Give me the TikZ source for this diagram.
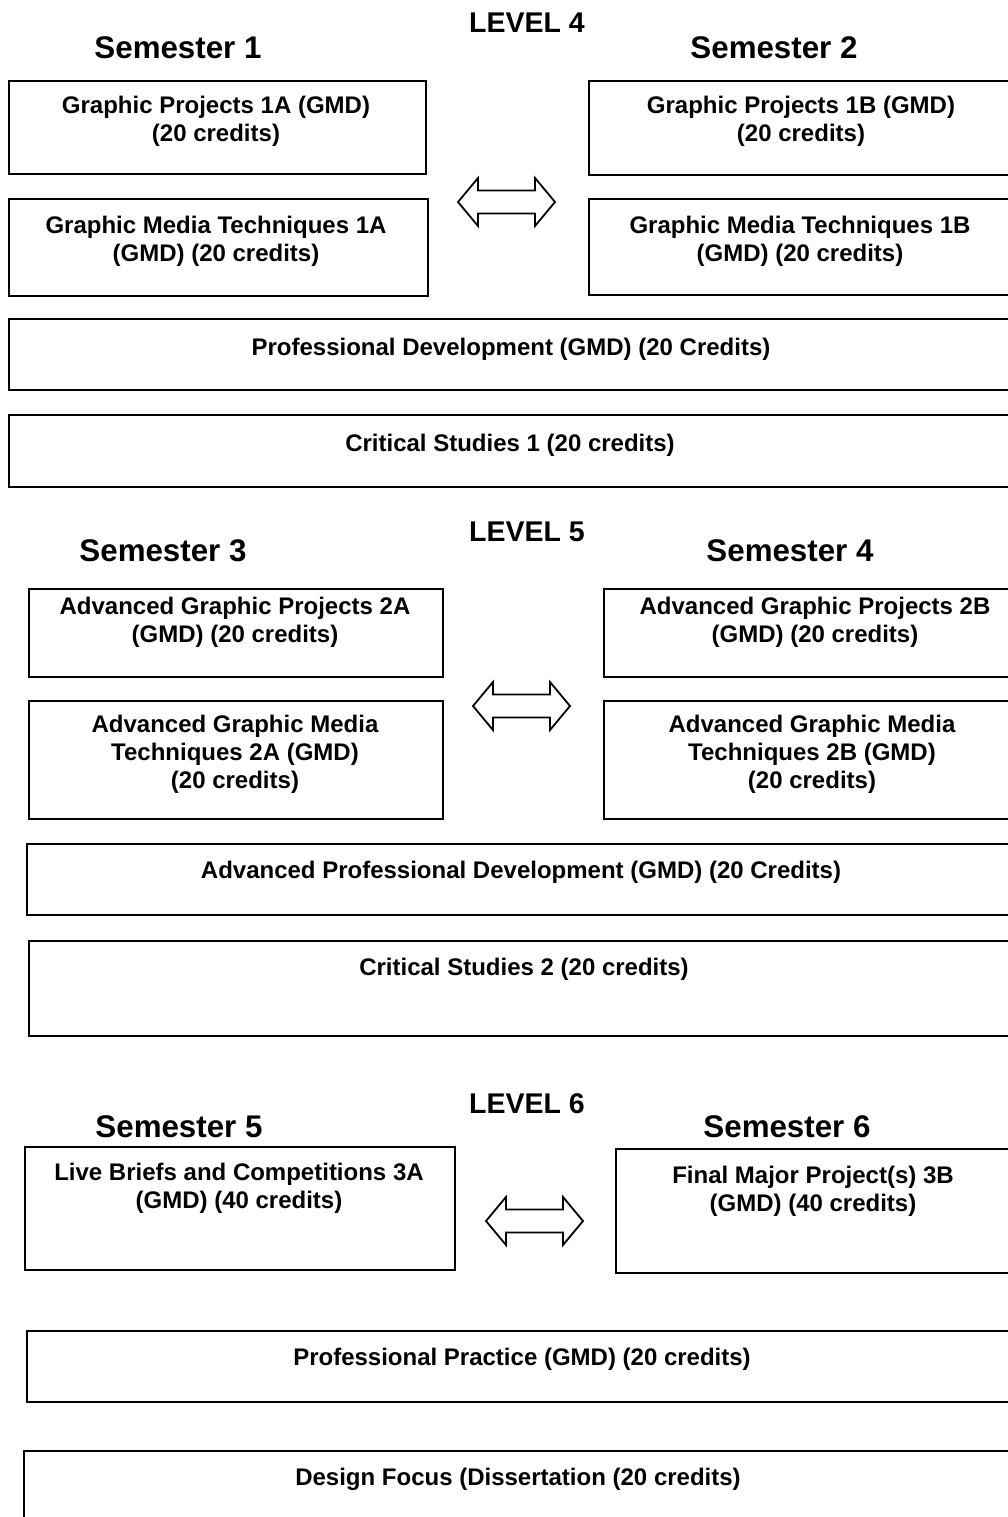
\documentclass[tikz,border=0pt]{standalone}
\usepackage{fontspec}
\setmainfont{Liberation Sans}
\begin{document}
\begin{tikzpicture}[x=1pt,y=-1pt,
  box/.style={draw, line width=1.8pt, rectangle, anchor=north west, inner sep=0pt},
  boxtext/.style={font=\bfseries\fontsize{24}{27.8}\selectfont, align=center, inner sep=0pt},
  sem/.style={font=\bfseries\fontsize{31.3}{36}\selectfont, inner sep=0pt},
  lvl/.style={font=\bfseries\fontsize{28.5}{33}\selectfont, inner sep=0pt},
  arrowline/.style={draw, line width=1.8pt, line join=miter},
  dblarr/.pic={\path[arrowline] (-48.5,0) -- (-28.5,-24) -- (-28.5,-11.5) -- (28.5,-11.5) -- (28.5,-24) -- (48.5,0) -- (28.5,24) -- (28.5,11.5) -- (-28.5,11.5) -- (-28.5,24) -- cycle;}]
\useasboundingbox (0,0) rectangle (1008,1517);
\clip (0,0) rectangle (1008,1517);

% ---------- LEVEL 4 ----------
\node[lvl] (l4) at (527,23) {LEVEL 4};
\node[sem] (s1) at (178,48) {Semester 1};
\node[sem] (s2) at (774,48) {Semester 2};

\node[box, minimum width=417pt, minimum height=93pt] (gp1a) at (8,80) {};
\node[boxtext] (gp1at) at (216,121) {Graphic Projects 1A (GMD)\\(20 credits)};
\node[box, minimum width=440pt, minimum height=94pt] (gp1b) at (588,80) {};
\node[boxtext] (gp1bt) at (801,121) {Graphic Projects 1B (GMD)\\(20 credits)};

\node[box, minimum width=419pt, minimum height=97pt] (gmt1a) at (8,198) {};
\node[boxtext] (gmt1at) at (216,241) {Graphic Media Techniques 1A\\(GMD) (20 credits)};
\node[box, minimum width=440pt, minimum height=96pt] (gmt1b) at (588,198) {};
\node[boxtext] (gmt1bt) at (800,241) {Graphic Media Techniques 1B\\(GMD) (20 credits)};

\coordinate (a1) at (506.5,202);
\pic at (a1) {dblarr};

\node[box, minimum width=1020pt, minimum height=71pt] (pd) at (8,318) {};
\node[boxtext] (pdt) at (511,349) {Professional Development (GMD) (20 Credits)};

\node[box, minimum width=1020pt, minimum height=72pt] (cs1) at (8,414) {};
\node[boxtext] (cs1t) at (510,445) {Critical Studies 1 (20 credits)};

% ---------- LEVEL 5 ----------
\node[lvl] (l5) at (527,532) {LEVEL 5};
\node[sem] (s3) at (163,551) {Semester 3};
\node[sem] (s4) at (790,551) {Semester 4};

\node[box, minimum width=414pt, minimum height=88pt] (agp2a) at (28,588) {};
\node[boxtext] (agp2at) at (235,622) {Advanced Graphic Projects 2A\\(GMD) (20 credits)};
\node[box, minimum width=420pt, minimum height=88pt] (agp2b) at (603,588) {};
\node[boxtext] (agp2bt) at (815,622) {Advanced Graphic Projects 2B\\(GMD) (20 credits)};

\node[box, minimum width=414pt, minimum height=118pt] (agmt2a) at (28,700) {};
\node[boxtext] (agmt2at) at (235,754) {Advanced Graphic Media\\Techniques 2A (GMD)\\(20 credits)};
\node[box, minimum width=420pt, minimum height=118pt] (agmt2b) at (603,700) {};
\node[boxtext] (agmt2bt) at (812,754) {Advanced Graphic Media\\Techniques 2B (GMD)\\(20 credits)};

\coordinate (a2) at (521.5,706);
\pic at (a2) {dblarr};

\node[box, minimum width=1000pt, minimum height=71pt] (apd) at (26,843) {};
\node[boxtext] (apdt) at (521,872) {Advanced Professional Development (GMD) (20 Credits)};

\node[box, minimum width=1000pt, minimum height=95pt] (cs2) at (28,940) {};
\node[boxtext] (cs2t) at (524,969) {Critical Studies 2 (20 credits)};

% ---------- LEVEL 6 ----------
\node[lvl] (l6) at (527,1104) {LEVEL 6};
\node[sem] (s5) at (179,1127) {Semester 5};
\node[sem] (s6) at (787,1127) {Semester 6};

\node[box, minimum width=430pt, minimum height=123pt] (lbc) at (24,1146) {};
\node[boxtext] (lbct) at (239,1188) {Live Briefs and Competitions 3A\\(GMD) (40 credits)};
\node[box, minimum width=410pt, minimum height=124pt] (fmp) at (615,1148) {};
\node[boxtext] (fmpt) at (813,1191) {Final Major Project(s) 3B\\(GMD) (40 credits)};

\coordinate (a3) at (534.5,1221);
\pic at (a3) {dblarr};

\node[box, minimum width=1000pt, minimum height=71pt] (pp) at (26,1330) {};
\node[boxtext] (ppt) at (522,1359) {Professional Practice (GMD) (20 credits)};

\node[box, minimum width=1000pt, minimum height=120pt] (df) at (23,1450) {};
\node[boxtext] (dft) at (518,1479) {Design Focus (Dissertation (20 credits)};
\end{tikzpicture}
\end{document}
